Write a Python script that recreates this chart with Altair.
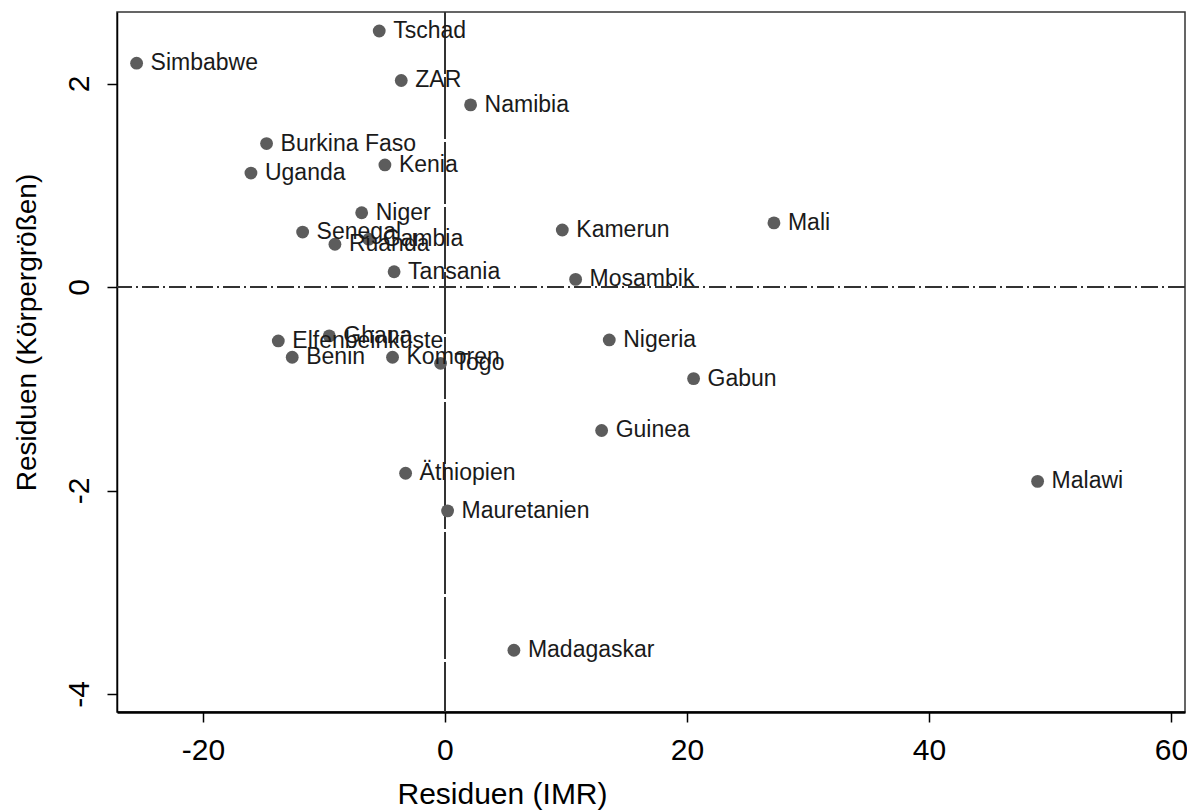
import altair as alt
import pandas as pd

countries = ["Tschad", "Simbabwe", "ZAR", "Namibia", "Burkina Faso", "Kenia", "Uganda",
             "Niger", "Senegal", "Gambia", "Ruanda", "Tansania", "Kamerun", "Mali",
             "Mosambik", "Ghana", "Elfenbeinküste", "Benin", "Komoren", "Togo",
             "Nigeria", "Gabun", "Guinea", "Äthiopien", "Mauretanien", "Malawi", "Madagaskar"]
imr_resid = [-5.43, -25.48, -3.61, 2.12, -14.74, -4.96, -16.03,
             -6.88, -11.76, -6.3, -9.09, -4.2, 9.70, 27.19,
             10.80, -9.56, -13.77, -12.62, -4.33, -0.36,
             13.58, 20.55, 12.95, -3.25, 0.22, 48.98, 5.70]
height_resid = [2.516, 2.20, 2.03, 1.79, 1.41, 1.20, 1.12,
                0.73, 0.54, 0.47, 0.42, 0.15, 0.56, 0.63,
                0.075, -0.48, -0.53, -0.69, -0.69, -0.75,
                -0.52, -0.90, -1.41, -1.83, -2.20, -1.91, -3.57]

x_ticks = [-20, 0, 20, 40, 60]
y_ticks = [-4, -2, 0, 2]

df = pd.DataFrame({"land": countries, "imr": imr_resid, "koerper": height_resid})

FONT = "Liberation Sans"
xscale = alt.Scale(domain=[-27.1, 61.16], nice=False, zero=False)
yscale = alt.Scale(domain=[-4.177, 2.703], nice=False, zero=False)

xaxis = alt.Axis(values=x_ticks, title="Residuen (IMR)", grid=False,
                 domainColor="black", domainWidth=2.5, tickColor="black", tickWidth=1.5,
                 tickSize=10, labelFontSize=30, labelFont=FONT, labelColor="black",
                 labelPadding=28, labelBaseline="middle", labelExpr="'' + datum.value",
                 titleFont=FONT, titleFontSize=30, titleFontWeight="normal", titleColor="black",
                 titleX=385, titleY=82, titleBaseline="middle", titleAlign="center")
yaxis = alt.Axis(values=y_ticks, title="Residuen (Körpergrößen)", grid=False,
                 domainColor="black", domainWidth=1.5, tickColor="black", tickWidth=1.5,
                 tickSize=10, labelFontSize=30, labelFont=FONT, labelColor="black",
                 labelAngle=270, labelAlign="center", labelBaseline="middle",
                 labelPadding=28, labelExpr="'' + datum.value",
                 titleFont=FONT, titleFontSize=28, titleFontWeight="normal", titleColor="black",
                 titleAngle=270, titleX=-90, titleY=320, titleBaseline="middle",
                 titleAlign="center")

base = alt.Chart(df)

hline = base.mark_rule(color="#333333", strokeWidth=1.3, strokeDash=[17, 4, 2, 4]).encode(
    y=alt.datum(0))
vline = base.mark_rule(color="#333333", strokeWidth=1.5, strokeDash=[62, 3]).encode(
    x=alt.datum(0))

points = base.mark_circle(size=165, color="#5c5c5c", opacity=1).encode(
    x=alt.X("imr:Q", scale=xscale, axis=xaxis),
    y=alt.Y("koerper:Q", scale=yscale, axis=yaxis),
)
labels = base.mark_text(align="left", baseline="middle", dx=14, fontSize=23, font=FONT,
                        color="#1a1a1a").encode(
    x=alt.X("imr:Q", scale=xscale),
    y=alt.Y("koerper:Q", scale=yscale),
    text="land:N",
)

chart = alt.layer(hline, vline, points, labels).properties(
    width=1068, height=700,
    autosize=alt.AutoSizeParams(type="none"),
    padding={"left": 117, "top": 12, "right": 2, "bottom": 99},
    background="white",
).configure_view(stroke="#333333", strokeWidth=1.5)

chart.save("out.html", embed_options={"renderer": "svg", "actions": False})
